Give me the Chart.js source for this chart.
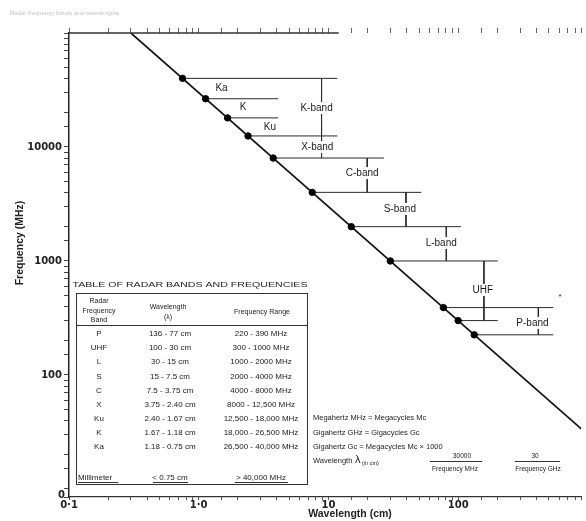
<!DOCTYPE html>
<html>
<head>
<meta charset="utf-8">
<script src="https://cdn.jsdelivr.net/npm/chart.js@4.4.0/dist/chart.umd.min.js"></script>
<style>
  html, body { margin: 0; padding: 0; background: #fff; }
  #wrap { width: 586px; height: 521px; }
</style>
</head>
<body>
<div id="wrap"><canvas id="myChart" width="586" height="521"></canvas></div>
<script>
// band edges along the line (wavelength cm, frequency MHz)
const edgeWavelengths = [0.75, 1.13, 1.67, 2.4, 3.75, 7.5, 15, 30, 77, 100, 133];
const edgeFrequencies = [40000, 26500, 18000, 12500, 8000, 4000, 2000, 1000, 390, 300, 225];
const edgeLineEnds = [11.7, 4.1, 4.1, 11.7, 26.8, 52, 105, 202, 541, 202, 541];

// the wavelength / frequency line
const lineWavelengths = [0.3, 1000];
const lineFrequencies = [100000, 30];

// band brackets
const bracketX = [8.85, 8.85, 19.9, 39.6, 81, 158, 415];
const bracketTop = [40000, 12500, 8000, 4000, 2000, 1000, 390];
const bracketBottom = [12500, 8000, 4000, 2000, 1000, 300, 225];

// band labels
const bandNames = ['Ka', 'K', 'Ku', 'K-band', 'X-band', 'C-band', 'S-band', 'L-band', 'UHF', 'P-band'];
const bandLabelX = [1.5, 2.2, 3.54, 8.1, 8.2, 18.2, 35.5, 74, 155, 374];
const bandLabelY = [33000, 22400, 15000, 22000, 10000, 5900, 2860, 1440, 557, 286];

const xTickValues = [0.1, 1, 10, 100];
const xTickLabels = ['0·1', '1·0', '10', '100'];
const yTickValues = [100, 1000, 10000];
const yTickLabels = ['100', '1000', '10000'];

// table of radar bands
const tableBands = ['P', 'UHF', 'L', 'S', 'C', 'X', 'Ku', 'K', 'Ka'];
const tableWavelengths = ['136 - 77 cm', '100 - 30 cm', '30 - 15 cm', '15 - 7.5 cm', '7.5 - 3.75 cm',
  '3.75 - 2.40 cm', '2.40 - 1.67 cm', '1.67 - 1.18 cm', '1.18 - 0.75 cm'];
const tableFrequencies = ['220 - 390 MHz', '300 - 1000 MHz', '1000 - 2000 MHz', '2000 - 4000 MHz',
  '4000 - 8000 MHz', '8000 - 12,500 MHz', '12,500 - 18,000 MHz', '18,000 - 26,500 MHz', '26,500 - 40,000 MHz'];

const notes = ['Megahertz MHz = Megacycles Mc', 'Gigahertz GHz = Gigacycles Gc', 'Gigahertz Gc = Megacycles Mc × 1000'];

function labelFor(v, vals, labs) {
  for (let i = 0; i < vals.length; i++) {
    if (Math.abs(v / vals[i] - 1) < 1e-6) return labs[i];
  }
  return '';
}

function stretchText(ctx, s, x, y, width) {
  const w = ctx.measureText(s).width;
  ctx.save();
  ctx.translate(x, y);
  ctx.scale(width / w, 1);
  ctx.fillText(s, 0, 0);
  ctx.restore();
}

const segStyle = { showLine: true, borderColor: '#2a2a2a', borderWidth: 1, pointRadius: 0, fill: false };

const datasets = [];
datasets.push({
  label: 'edges',
  data: edgeWavelengths.map((w, i) => ({ x: w, y: edgeFrequencies[i] })),
  showLine: false,
  pointRadius: 3.2,
  pointBackgroundColor: '#000',
  pointBorderColor: '#000'
});
datasets.push({
  label: 'wavelength',
  data: lineWavelengths.map((w, i) => ({ x: w, y: lineFrequencies[i] })),
  showLine: true,
  borderColor: '#151515',
  borderWidth: 1.7,
  pointRadius: 0
});
edgeWavelengths.forEach((w, i) => {
  datasets.push(Object.assign({
    data: [{ x: w, y: edgeFrequencies[i] }, { x: edgeLineEnds[i], y: edgeFrequencies[i] }]
  }, segStyle));
});
bracketX.forEach((w, i) => {
  datasets.push(Object.assign({
    data: [{ x: w, y: bracketTop[i] }, { x: w, y: bracketBottom[i] }]
  }, segStyle));
});

const overlay = {
  id: 'overlay',
  afterDatasetsDraw(chart) {
    const ctx = chart.ctx, xs = chart.scales.x, ys = chart.scales.y, a = chart.chartArea;
    ctx.save();

    // top axis line, only the left part shows in the scan
    ctx.strokeStyle = '#333';
    ctx.lineWidth = 1.5;
    ctx.beginPath();
    ctx.moveTo(a.left, a.top);
    ctx.lineTo(xs.getPixelForValue(12), a.top);
    ctx.stroke();

    // band labels
    ctx.font = '10px "Liberation Sans"';
    ctx.textAlign = 'center';
    ctx.textBaseline = 'middle';
    bandNames.forEach((n, i) => {
      const px = xs.getPixelForValue(bandLabelX[i]);
      const py = ys.getPixelForValue(bandLabelY[i]);
      const w = ctx.measureText(n).width;
      ctx.fillStyle = '#fff';
      ctx.fillRect(px - w / 2 - 1, py - 6, w + 2, 12);
      ctx.fillStyle = '#1a1a1a';
      ctx.fillText(n, px, py);
    });
    ctx.font = '8px "Liberation Sans"';
    ctx.fillText('*', 560, 297);

    // axis titles
    ctx.fillStyle = '#222';
    ctx.font = 'bold 10.5px "Liberation Sans"';
    ctx.fillText('Wavelength (cm)', 350, 514);
    ctx.save();
    ctx.translate(20, 243);
    ctx.rotate(-Math.PI / 2);
    ctx.fillText('Frequency (MHz)', 0, 0);
    ctx.restore();
    ctx.font = 'bold 10px "DejaVu Sans"';
    ctx.textAlign = 'right';
    ctx.fillText('0', 65, 495);

    // faint heading of the scan
    ctx.textAlign = 'left';
    ctx.fillStyle = '#c4c4c4';
    ctx.font = '6px "Liberation Sans"';
    ctx.fillText('Radar frequency bands and wavelengths', 10, 13);

    // table
    ctx.fillStyle = '#222';
    ctx.strokeStyle = '#333';
    ctx.lineWidth = 1;
    ctx.textAlign = 'center';
    ctx.font = '8px "Liberation Sans"';
    stretchText(ctx, 'TABLE OF RADAR BANDS AND FREQUENCIES', 190, 285, 235);
    ctx.strokeRect(76.5, 293.5, 231, 191);
    ctx.beginPath();
    ctx.moveTo(76.5, 325.5);
    ctx.lineTo(307.5, 325.5);
    ctx.stroke();
    ctx.font = '7px "Liberation Sans"';
    ctx.fillText('Radar', 99, 301);
    ctx.fillText('Frequency', 99, 311);
    ctx.fillText('Band', 99, 320);
    ctx.fillText('Wavelength', 168, 307);
    ctx.fillText('(λ)', 168, 317);
    ctx.font = '7.5px "Liberation Sans"';
    stretchText(ctx, 'Frequency Range', 262, 312, 56);
    ctx.font = '8px "Liberation Sans"';
    tableBands.forEach((b, i) => {
      const y = 334 + i * 14.1;
      ctx.fillText(b, 99, y);
      ctx.fillText(tableWavelengths[i], 170, y);
      ctx.fillText(tableFrequencies[i], 261, y);
    });
    ctx.fillText('< 0.75 cm', 170, 478);
    ctx.fillText('> 40,000 MHz', 261, 478);
    ctx.textAlign = 'left';
    ctx.fillText('Millimeter', 78, 478);
    ctx.beginPath();
    ctx.moveTo(78, 482.5); ctx.lineTo(118, 482.5);
    ctx.moveTo(153, 482.5); ctx.lineTo(188, 482.5);
    ctx.moveTo(235, 482.5); ctx.lineTo(288, 482.5);
    ctx.stroke();

    // notes
    ctx.font = '7.5px "Liberation Sans"';
    notes.forEach((n, i) => ctx.fillText(n, 313, 418 + i * 14.5));
    ctx.fillText('Wavelength', 313, 461);
    ctx.font = '11px "Liberation Sans"';
    ctx.fillText('λ', 355, 460);
    ctx.font = '5.5px "Liberation Sans"';
    ctx.fillText('(in cm)', 362, 463);
    ctx.textAlign = 'center';
    ctx.font = '6.5px "Liberation Sans"';
    ctx.fillText('30000', 462, 456);
    ctx.fillText('Frequency MHz', 455, 469);
    ctx.fillText('30', 535, 456);
    ctx.fillText('Frequency GHz', 538, 469);
    ctx.beginPath();
    ctx.moveTo(430, 461.5); ctx.lineTo(482, 461.5);
    ctx.moveTo(515, 461.5); ctx.lineTo(560, 461.5);
    ctx.stroke();

    ctx.restore();
  }
};

const tickFont = { family: 'DejaVu Sans', size: 10, weight: 'bold' };

const ctx = document.getElementById('myChart').getContext('2d');
const myChart = new Chart(ctx, {
  type: 'scatter',
  data: { datasets: datasets },
  options: {
    responsive: false,
    animation: false,
    layout: { padding: 0 },
    plugins: { legend: { display: false }, tooltip: { enabled: false } },
    scales: {
      x: {
        type: 'logarithmic',
        position: 'bottom',
        min: 0.1,
        max: 885,
        afterFit: (s) => { s.height = 24; },
        border: { display: true, color: '#333', width: 1.2 },
        grid: { drawOnChartArea: false, tickLength: 3, color: '#555' },
        ticks: {
          autoSkip: false, maxRotation: 0, padding: -1, color: '#222', font: tickFont,
          callback: (v) => labelFor(v, xTickValues, xTickLabels)
        }
      },
      x2: {
        type: 'logarithmic',
        position: 'top',
        min: 0.1,
        max: 885,
        afterFit: (s) => { s.height = 33; },
        border: { display: false },
        grid: { drawOnChartArea: false, tickLength: 5, color: '#666' },
        ticks: { display: false }
      },
      y: {
        type: 'logarithmic',
        min: 8.5,
        max: 100000,
        afterFit: (s) => { s.width = 69; },
        border: { display: true, color: '#222', width: 1.5 },
        grid: { drawOnChartArea: false, tickLength: 5, color: '#444' },
        ticks: {
          autoSkip: false, padding: 2, color: '#222', font: tickFont,
          callback: (v) => labelFor(v, yTickValues, yTickLabels)
        }
      }
    }
  },
  plugins: [overlay]
});
</script>
</body>
</html>
